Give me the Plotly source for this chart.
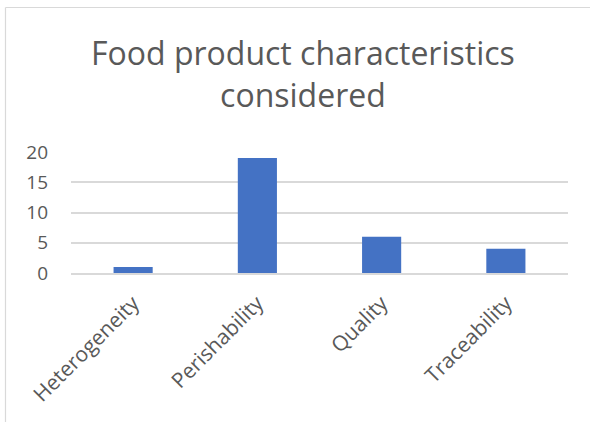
import plotly.graph_objects as go

categories = ["Heterogeneity", "Perishability", "Quality", "Traceability"]
counts = [1, 19, 6, 4]
y_ticks = [0, 5, 10, 15, 20]

W, H = 590, 422
L, R, T, B = 71, 22, 152, 149  # plot area: x 71..568, y 152..273
pw, ph = W - L - R, H - T - B

def px_x(x):
    return (x - L) / pw

def px_y(y):
    return (H - B - y) / ph

TEXT = "#595959"
BORDER = "#d9d9d9"
FONT = "Open Sans"

fig = go.Figure(
    go.Bar(
        x=categories,
        y=counts,
        marker=dict(color="#4472c4", line=dict(width=0)),
        width=0.315,
    )
)

fig.update_layout(
    width=W,
    height=H,
    margin=dict(l=L, r=R, t=T, b=B),
    paper_bgcolor="white",
    plot_bgcolor="white",
    showlegend=False,
    font=dict(family=FONT, color=TEXT),
    annotations=[
        dict(
            text="Food product characteristics<br>considered",
            xref="paper",
            yref="paper",
            x=px_x(303),
            y=px_y(74),
            xanchor="center",
            yanchor="middle",
            showarrow=False,
            font=dict(family=FONT, size=32, color=TEXT),
        )
    ],
    shapes=[
        # chart frame (top and left edges visible)
        dict(type="line", xref="paper", yref="paper",
             x0=px_x(5.5), x1=px_x(600), y0=px_y(7.5), y1=px_y(7.5),
             line=dict(color=BORDER, width=1.2)),
        dict(type="line", xref="paper", yref="paper",
             x0=px_x(5.5), x1=px_x(5.5), y0=px_y(7.5), y1=px_y(440),
             line=dict(color=BORDER, width=1.2)),
    ],
)

fig.update_yaxes(
    range=[0, 20],
    tickvals=y_ticks,
    showgrid=True,
    gridcolor=BORDER,
    gridwidth=1.5,
    zeroline=False,
    showline=False,
    ticks="",
    ticklabelstandoff=22,
    tickfont=dict(family=FONT, size=19, color=TEXT),
)

fig.update_xaxes(
    showline=True,
    linecolor=BORDER,
    linewidth=1.5,
    ticks="",
    tickangle=-45,
    ticklabelstandoff=8,
    tickfont=dict(family=FONT, size=21, color=TEXT),
)

fig.write_html("out.html")
